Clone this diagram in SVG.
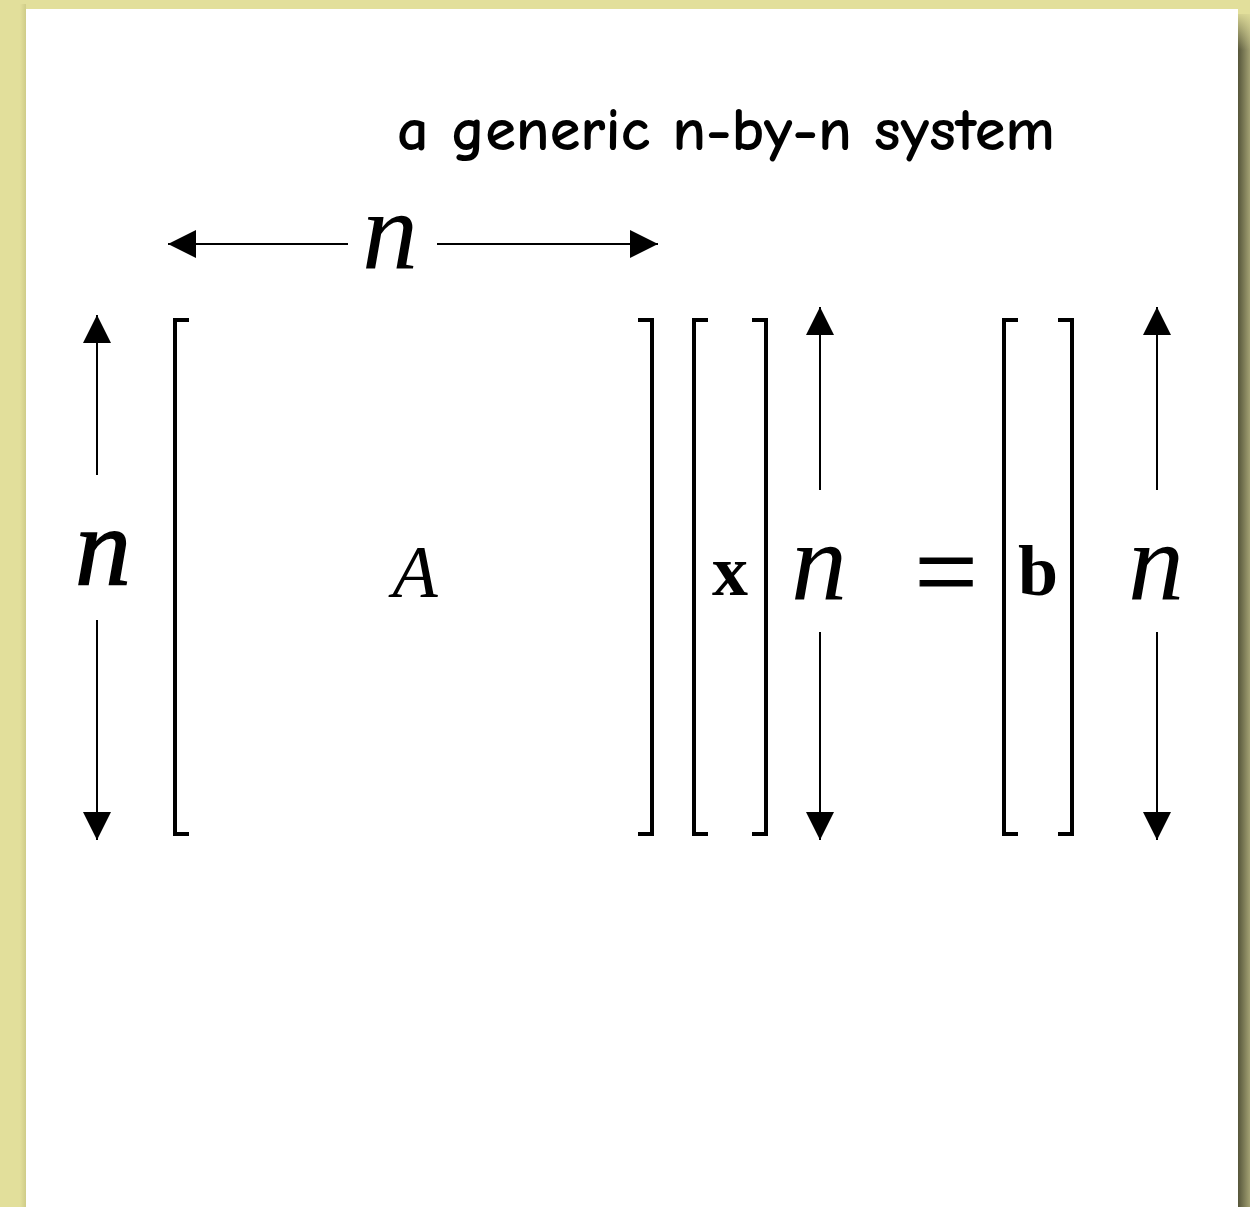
<svg xmlns="http://www.w3.org/2000/svg" width="1250" height="1207" viewBox="0 0 1250 1207">
<defs>
<linearGradient id="shR" x1="0" y1="0" x2="1" y2="0">
<stop offset="0" stop-color="#55553a"/>
<stop offset="1" stop-color="#a3a173"/>
</linearGradient>
<linearGradient id="shTop" x1="0" y1="0" x2="0" y2="1">
<stop offset="0" stop-color="#e2df9b" stop-opacity="1"/>
<stop offset="1" stop-color="#e2df9b" stop-opacity="0"/>
</linearGradient>
<linearGradient id="shL" x1="0" y1="0" x2="1" y2="0">
<stop offset="0" stop-color="#e2df9b"/>
<stop offset="1" stop-color="#cfcc88"/>
</linearGradient>
<marker id="ah" viewBox="0 0 28 28" refX="28" refY="14" markerWidth="28" markerHeight="28" markerUnits="userSpaceOnUse" orient="auto">
<path d="M0,0 L28,14 L0,28 Z" fill="#000"/>
</marker>
<style>
.arr{stroke:#000;stroke-width:2;fill:none;marker-end:url(#ah)}
.br{stroke:#000;stroke-width:4;fill:none;stroke-linecap:butt;stroke-linejoin:miter}
.mi{font-family:"Liberation Serif","Times New Roman",serif;font-style:italic;fill:#000}
.mb{font-family:"Liberation Serif","Times New Roman",serif;font-weight:bold;fill:#000}
.title{font-family:"Comic Sans MS","Comic Neue","DejaVu Sans","Liberation Sans",sans-serif;fill:#000;font-weight:600}
</style>
</defs>
<rect x="0" y="0" width="1250" height="1207" fill="#e2df9b"/>
<rect x="20" y="4" width="6" height="1203" fill="url(#shL)"/>
<rect x="1238" y="14" width="12" height="1193" fill="url(#shR)"/>
<rect x="1238" y="10" width="12" height="40" fill="url(#shTop)"/>
<rect x="26" y="9" width="1212" height="1198" fill="#ffffff"/>

<g id="title">
<text class="title" x="726" y="150" font-size="60" text-anchor="middle" textLength="658" lengthAdjust="spacingAndGlyphs">a generic n-by-n system</text>
</g>

<g id="connectors">
<line class="arr" x1="348" y1="244" x2="168" y2="244"/>
<line class="arr" x1="437" y1="244" x2="658" y2="244"/>
<line class="arr" x1="97" y1="475" x2="97" y2="315"/>
<line class="arr" x1="97" y1="620" x2="97" y2="840"/>
<line class="arr" x1="820" y1="490" x2="820" y2="307"/>
<line class="arr" x1="820" y1="632" x2="820" y2="840"/>
<line class="arr" x1="1157" y1="490" x2="1157" y2="307"/>
<line class="arr" x1="1157" y1="632" x2="1157" y2="840"/>
</g>

<g id="dim-top">
<text class="mi" x="390" y="269" font-size="112" text-anchor="middle">n</text>
</g>
<g id="dim-left">
<text class="mi" x="103" y="585" font-size="112" text-anchor="middle" stroke="#000" stroke-width="1.5">n</text>
</g>

<g id="matrix-A">
<path class="br" d="M189,320 H175 V834 H189"/>
<path class="br" d="M638,320 H652 V834 H638"/>
<text class="mi" x="415" y="597" font-size="74" text-anchor="middle">A</text>
</g>

<g id="vector-x">
<path class="br" d="M708,320 H694 V834 H708"/>
<path class="br" d="M752,320 H766 V834 H752"/>
<text class="mb" x="730" y="595" font-size="72" text-anchor="middle">x</text>
</g>
<g id="dim-x">
<text class="mi" x="819" y="600" font-size="112" text-anchor="middle">n</text>
</g>

<g id="equals">
<text x="946" y="609" font-family="Liberation Serif,Times New Roman,serif" font-size="112" text-anchor="middle" fill="#000" stroke="#000" stroke-width="1">=</text>
</g>

<g id="vector-b">
<path class="br" d="M1018,320 H1004 V834 H1018"/>
<path class="br" d="M1058,320 H1072 V834 H1058"/>
<text class="mb" x="1038" y="595" font-size="72" text-anchor="middle">b</text>
</g>
<g id="dim-b">
<text class="mi" x="1156" y="600" font-size="112" text-anchor="middle">n</text>
</g>
</svg>
